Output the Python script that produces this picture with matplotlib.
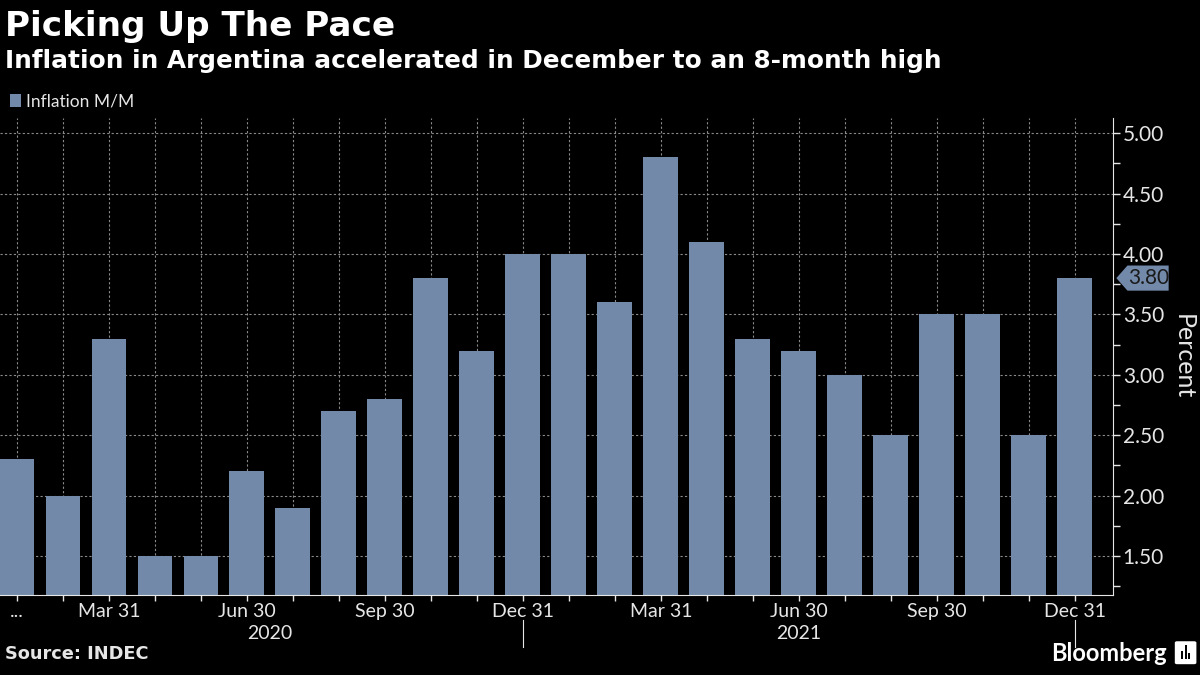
import matplotlib
matplotlib.use('Agg')
import matplotlib.pyplot as plt
from matplotlib import font_manager
from matplotlib.patches import Polygon, Rectangle, FancyBboxPatch
from matplotlib.ticker import MultipleLocator

# Dados: inflação mensal (M/M) na Argentina, jan/2020 a dez/2021
meses = ['Jan 31', 'Feb 29', 'Mar 31', 'Apr 30', 'May 31', 'Jun 30',
         'Jul 31', 'Aug 31', 'Sep 30', 'Oct 31', 'Nov 30', 'Dec 31',
         'Jan 31', 'Feb 28', 'Mar 31', 'Apr 30', 'May 31', 'Jun 30',
         'Jul 31', 'Aug 31', 'Sep 30', 'Oct 31', 'Nov 30', 'Dec 31']
inflacao = [2.3, 2.0, 3.3, 1.5, 1.5, 2.2, 1.9, 2.7, 2.8, 3.8, 3.2, 4.0,
            4.0, 3.6, 4.8, 4.1, 3.3, 3.2, 3.0, 2.5, 3.5, 3.5, 2.5, 3.8]
rotulos_x = ['...', '', 'Mar 31', '', '', 'Jun 30', '', '', 'Sep 30', '', '', 'Dec 31',
             '', '', 'Mar 31', '', '', 'Jun 30', '', '', 'Sep 30', '', '', 'Dec 31']
anos = ['2020', '2021']
ticks_y = [1.5, 2.0, 2.5, 3.0, 3.5, 4.0, 4.5, 5.0]
ultimo = 3.80

cor_barra = '#7289aa'
cor_texto = '#e6e6e6'

# escolhe uma fonte que tenha negrito instalado
fonte = 'DejaVu Sans'
for f in ['Lato', 'Open Sans', 'Noto Sans']:
    pesos = [x.weight for x in font_manager.fontManager.ttflist if x.name == f]
    if any(p in (700, 'bold') for p in pesos):
        fonte = f
        break
plt.rcParams['font.family'] = [fonte, 'DejaVu Sans']
fonte_titulo = ['DejaVu Sans']

fig = plt.figure(figsize=(12, 6.75), dpi=100, facecolor='black')
ax = fig.add_axes([0.0, 0.1185, 0.9275, 0.7065], facecolor='black')

x = list(range(len(inflacao)))
ax.bar(x, inflacao, width=0.76, color=cor_barra, zorder=2)

ax.set_xlim(-0.37, 23.83)
ax.set_ylim(1.177, 5.124)

# eixo y do lado direito
ax.yaxis.tick_right()
ax.yaxis.set_label_position('right')
ax.yaxis.set_minor_locator(MultipleLocator(0.25))
ax.set_yticks(ticks_y)
ax.set_yticklabels(['%.2f' % v for v in ticks_y])
ax.tick_params(axis='y', which='both', direction='out', length=5, width=1,
               color=cor_texto, labelcolor=cor_texto, labelsize=15, pad=2)
ax.set_ylabel('Percent', color=cor_texto, fontsize=18, rotation=-90, labelpad=22)

ax.set_xticks(x)
ax.set_xticklabels(rotulos_x)
ax.tick_params(axis='x', direction='out', length=4, width=1, color=cor_texto,
               labelcolor=cor_texto, labelsize=14, pad=2)

for lado in ['top', 'left']:
    ax.spines[lado].set_visible(False)
ax.spines['bottom'].set_color(cor_texto)
ax.spines['right'].set_color(cor_texto)

ax.grid(True, which='major', color='#8a8a8a', linestyle=(0, (2, 2)), linewidth=0.8, zorder=0)

# anos e separadores
ax.text(5.5, -0.08, anos[0], transform=ax.get_xaxis_transform(), ha='center', va='center',
        color=cor_texto, fontsize=14)
ax.text(17, -0.08, anos[1], transform=ax.get_xaxis_transform(), ha='center', va='center',
        color=cor_texto, fontsize=14)
for sep in [11, 23]:
    ax.plot([sep, sep], [-0.052, -0.11], transform=ax.get_xaxis_transform(),
            color=cor_texto, linewidth=0.8, clip_on=False)

# rótulo do último valor
tr = ax.get_yaxis_transform()
etiqueta = Polygon([(1.003, ultimo), (1.013, ultimo + 0.104), (1.05, ultimo + 0.104),
                    (1.05, ultimo - 0.104), (1.013, ultimo - 0.104)], closed=True,
                   transform=tr, facecolor=cor_barra, edgecolor='none', clip_on=False)
ax.add_patch(etiqueta)
ax.text(1.032, ultimo, '%.2f' % ultimo, transform=tr, ha='center', va='center',
        color='#1a1a1a', fontsize=15)

# títulos
fig.text(0.004, 0.9467, 'Picking Up The Pace', ha='left', va='baseline', color='white',
         fontsize=24.7, fontweight='bold', family=fonte_titulo)
fig.text(0.004, 0.8995, 'Inflation in Argentina accelerated in December to an 8-month high',
         ha='left', va='baseline', color='white', fontsize=17.8, fontweight='bold',
         family=fonte_titulo)

# legenda
fig.patches.append(Rectangle((0.0083, 0.8415), 0.0092, 0.0192, transform=fig.transFigure,
                             facecolor=cor_barra, edgecolor='none'))
fig.text(0.0215, 0.8415, 'Inflation M/M', ha='left', va='baseline', color=cor_texto,
         fontsize=12.5)

fig.text(0.004, 0.018, 'Source: INDEC', ha='left', va='bottom', color=cor_texto,
         fontsize=12.8, fontweight='bold', family=fonte_titulo)
fig.text(0.972, 0.015, 'Bloomberg', ha='right', va='bottom', color='white',
         fontsize=17, fontweight='bold')
# ícone
fig.patches.append(FancyBboxPatch((0.981, 0.018), 0.014, 0.03, boxstyle='round,pad=0.002',
                                  transform=fig.transFigure, facecolor='white', edgecolor='none'))
for i, h in enumerate([0.012, 0.02, 0.008]):
    fig.patches.append(Rectangle((0.9845 + i * 0.0028, 0.024), 0.0016, h,
                                 transform=fig.transFigure, facecolor='black', edgecolor='none'))

fig.savefig('out.png', dpi=100, facecolor='black')
